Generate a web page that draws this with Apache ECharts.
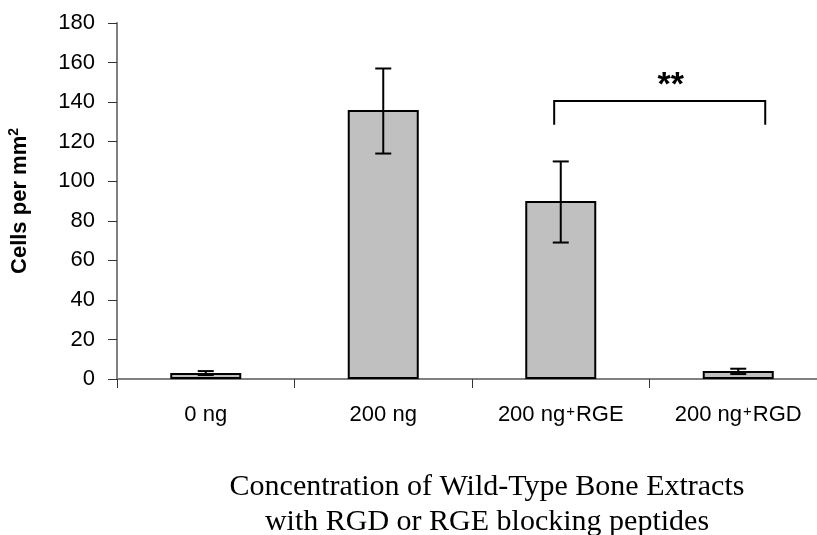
<!DOCTYPE html>
<html>
<head>
<meta charset="utf-8">
<script src="https://cdn.jsdelivr.net/npm/echarts@6/dist/echarts.min.js"></script>
<style>
    html, body { margin: 0; padding: 0; background: #fff; }
    #chart { width: 817px; height: 535px; }
</style>
</head>
<body>
<div id="chart"></div>
<script>
// data
var categories = ['0 ng', '200 ng', '200 ng+RGE', '200 ng+RGD'];
var cellsPerMm2 = [3, 136, 90, 4];
var errLow = [2, 114, 69, 2.5];
var errHigh = [4, 157, 110, 5.2];
// significance bracket: from category, to category, top value, foot value
var bracket = [2, 3, 140.5, 128.5];
var bracketLabel = '**';

var chart = echarts.init(document.getElementById('chart'));

function fmtCategory(v) {
    var i = v.indexOf('+');
    if (i < 0) return v;
    return v.slice(0, i) + '{sup|+}' + v.slice(i + 1);
}

var errData = categories.map(function (c, i) {
    return [i, errLow[i], errHigh[i]];
});

chart.setOption({
    animation: false,
    grid: {
        left: 117,
        top: 23,
        width: 710,
        height: 356,
        outerBoundsMode: 'none'
    },
    xAxis: {
        type: 'category',
        data: categories,
        axisLine: { lineStyle: { color: '#808080', width: 2 } },
        axisTick: { show: true, length: 9, lineStyle: { color: '#333', width: 1 } },
        axisLabel: {
            interval: 0,
            color: '#000',
            fontFamily: 'Liberation Sans, Arial',
            fontSize: 22,
            margin: 25,
            formatter: fmtCategory,
            rich: {
                sup: {
                    fontSize: 15,
                    color: '#000',
                    fontFamily: 'Liberation Sans, Arial',
                    padding: [0, 1, 7, 1]
                }
            }
        }
    },
    yAxis: {
        type: 'value',
        min: 0,
        max: 180,
        interval: 20,
        name: 'Cells per mm{sup|2}',
        nameLocation: 'middle',
        nameGap: 84,
        nameTextStyle: {
            color: '#000',
            fontFamily: 'Liberation Sans, Arial',
            fontWeight: 'bold',
            fontSize: 22,
            rich: {
                sup: {
                    fontSize: 14,
                    fontWeight: 'bold',
                    color: '#000',
                    fontFamily: 'Liberation Sans, Arial',
                    padding: [0, 0, 12, 0]
                }
            }
        },
        axisLine: { show: true, lineStyle: { color: '#808080', width: 2 } },
        axisTick: { show: true, length: 9, lineStyle: { color: '#333', width: 1 } },
        axisLabel: {
            color: '#000',
            fontFamily: 'Liberation Sans, Arial',
            fontSize: 22,
            margin: 22
        },
        splitLine: { show: false }
    },
    series: [
        {
            type: 'bar',
            data: cellsPerMm2,
            barWidth: '40%',
            itemStyle: {
                color: '#c0c0c0',
                borderColor: '#000',
                borderWidth: 2
            },
            z: 2
        },
        {
            type: 'custom',
            data: errData,
            z: 3,
            renderItem: function (params, api) {
                var x = api.value(0);
                var lo = api.coord([x, api.value(1)]);
                var hi = api.coord([x, api.value(2)]);
                var cap = 8;
                var style = { stroke: '#000', lineWidth: 2 };
                return {
                    type: 'group',
                    children: [
                        { type: 'line', shape: { x1: hi[0], y1: hi[1], x2: lo[0], y2: lo[1] }, style: style },
                        { type: 'line', shape: { x1: hi[0] - cap, y1: hi[1], x2: hi[0] + cap, y2: hi[1] }, style: style },
                        { type: 'line', shape: { x1: lo[0] - cap, y1: lo[1], x2: lo[0] + cap, y2: lo[1] }, style: style }
                    ]
                };
            }
        },
        {
            type: 'custom',
            data: [bracket],
            z: 3,
            renderItem: function (params, api) {
                var band = api.size([1, 0])[0];
                var a = api.coord([api.value(0), api.value(2)]);
                var b = api.coord([api.value(1), api.value(2)]);
                var foot = api.coord([api.value(0), api.value(3)])[1];
                var x1 = a[0] - band * 0.037;
                var x2 = b[0] + band * 0.152;
                var y = a[1];
                var style = { stroke: '#000', lineWidth: 2, fill: null };
                return {
                    type: 'group',
                    children: [
                        {
                            type: 'polyline',
                            shape: { points: [[x1, foot], [x1, y], [x2, y], [x2, foot]] },
                            style: style
                        },
                        {
                            type: 'text',
                            style: {
                                text: bracketLabel,
                                x: (x1 + x2) / 2 + 11,
                                y: y - 15,
                                align: 'center',
                                verticalAlign: 'middle',
                                fill: '#000',
                                font: 'bold 34px "Liberation Sans", Arial'
                            }
                        }
                    ]
                };
            }
        }
    ],
    graphic: [
        {
            type: 'text',
            x: 487,
            y: 470,
            style: {
                text: 'Concentration of Wild-Type Bone Extracts\nwith RGD or RGE blocking peptides',
                align: 'center',
                fill: '#000',
                font: '30px "Liberation Serif", "Times New Roman", serif',
                lineHeight: 35
            }
        }
    ]
});
</script>
</body>
</html>
